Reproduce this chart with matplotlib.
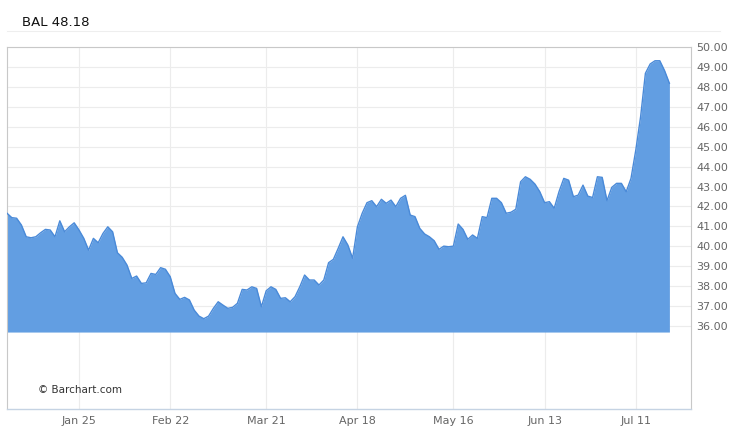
import numpy as np
import pandas as pd
import matplotlib
matplotlib.use("Agg")
import matplotlib.pyplot as plt
from matplotlib.lines import Line2D

# daily closes, Dec 31 2015 .. Jul 20 2016
closes = [
    41.66, 41.44, 41.41, 41.07, 40.48, 40.43, 40.48, 40.68, 40.85, 40.82,
    40.48, 41.28, 40.73, 40.98, 41.18, 40.82, 40.40, 39.81, 40.40, 40.18,
    40.65, 40.98, 40.73, 39.68,
    39.45, 39.06, 38.39, 38.51, 38.14, 38.17, 38.64, 38.59, 38.93, 38.85,
    38.48, 37.64, 37.34, 37.44, 37.31, 36.80, 36.50, 36.37, 36.50, 36.89,
    37.22, 37.05, 36.89, 36.94,
    37.14, 37.84, 37.81, 37.97, 37.89, 36.97, 37.77, 37.97, 37.84, 37.39,
    37.42, 37.22, 37.47, 37.97, 38.56, 38.31, 38.31, 38.06, 38.31, 39.18,
    39.35, 39.90, 40.48, 40.07, 39.40,
    40.98, 41.66, 42.19, 42.29, 41.99, 42.36, 42.16, 42.32, 41.99, 42.41,
    42.56, 41.57, 41.49, 40.90, 40.62, 40.48, 40.28, 39.85, 40.01, 39.98,
    40.01, 41.12, 40.85, 40.35,
    40.57, 40.40, 41.49, 41.44, 42.41, 42.41, 42.19, 41.66, 41.71, 41.86,
    43.24, 43.49, 43.36, 43.12, 42.74, 42.19, 42.24, 41.91, 42.74, 43.41,
    43.32, 42.49, 42.57, 43.07, 42.52, 42.45, 43.49, 43.46, 42.29, 42.96,
    43.16, 43.16, 42.74, 43.41, 44.83, 46.50, 48.68, 49.15, 49.31, 49.31,
    48.81, 48.18,
]
holidays = ["2016-01-01", "2016-01-18", "2016-02-15", "2016-03-25",
            "2016-05-30", "2016-07-04"]
tick_dates = ["2016-01-25", "2016-02-22", "2016-03-21", "2016-04-18",
              "2016-05-16", "2016-06-13", "2016-07-11"]
tick_labels = ["Jan 25", "Feb 22", "Mar 21", "Apr 18", "May 16", "Jun 13", "Jul 11"]
price_ticks = np.arange(36, 51, 1)
symbol = "BAL"
base_price = 35.7

dates = pd.bdate_range("2015-12-31", periods=len(closes), freq="C", holidays=holidays)
x = np.arange(len(closes))
tick_pos = [dates.get_loc(pd.Timestamp(d)) for d in tick_dates]

fig = plt.figure(figsize=(7.5, 4.33), dpi=100)
ax = fig.add_axes([7 / 750, 24 / 433, 684 / 750, 362 / 433])

ax.fill_between(x, closes, base_price, color="#629ee2", linewidth=0, zorder=2)
ax.plot(x, closes, color="#4a8ad8", linewidth=1.0, zorder=3)

ax.set_xlim(0, 142.5)
ax.set_ylim(31.84, 50.0)

ax.yaxis.tick_right()
ax.set_yticks(price_ticks)
ax.set_yticklabels(["%.2f" % v for v in price_ticks])
ax.set_xticks(tick_pos)
ax.set_xticklabels(tick_labels)
ax.tick_params(axis="both", length=0, labelsize=8, labelcolor="#666666")
ax.tick_params(axis="y", pad=4)
ax.tick_params(axis="x", pad=5)

for v in price_ticks:
    ax.axhline(v, color="#ececec", linewidth=0.8, zorder=1)
for p in tick_pos:
    ax.axvline(p, color="#ececec", linewidth=0.8, zorder=1)

for side in ["left", "top", "right"]:
    ax.spines[side].set_color("#c8c8c8")
    ax.spines[side].set_linewidth(0.8)
ax.spines["bottom"].set_color("#c5d3e3")
ax.spines["bottom"].set_linewidth(1.0)

ax.text(0.046, 0.045, "\u00a9 Barchart.com", transform=ax.transAxes,
        fontsize=7.5, color="#333333")

fig.text(22 / 750, 1 - 22 / 433, "%s %.2f" % (symbol, closes[-1]),
         fontsize=9.5, color="#111111", va="center")
fig.add_artist(Line2D([7 / 750, 720 / 750], [1 - 31 / 433, 1 - 31 / 433],
                      color="#eeeeee", linewidth=0.8))

fig.savefig("out.png", dpi=100)
